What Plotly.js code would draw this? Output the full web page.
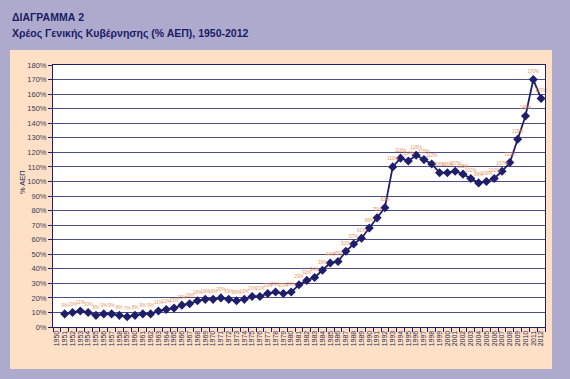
<!DOCTYPE html>
<html>
<head>
<meta charset="utf-8">
<script src="https://cdn.plot.ly/plotly-3.0.1.min.js"></script>
<style>html,body{margin:0;padding:0;background:#aeaacd;}#chart{width:570px;height:379px;}</style>
</head>
<body>
<div id="chart"></div>
<script>
// Categories (years) shown on the axis
const years = [];
for (let y = 1950; y <= 2012; y++) years.push(String(y));

// Years that have a value
const dataYears = ['1951','1952','1953','1954','1955','1956','1957','1958','1959','1960',
  '1961','1962','1963','1964','1965','1966','1967','1968','1969','1970',
  '1971','1972','1973','1974','1975','1976','1977','1978','1979','1980',
  '1981','1982','1983','1984','1985','1986','1987','1988','1989','1990',
  '1991','1992','1993','1994','1995','1996','1997','1998','1999','2000',
  '2001','2002','2003','2004','2005','2006','2007','2008','2009','2010',
  '2011','2012'];

// Debt, % of GDP
const debtPct = [9,10,11,10,8,9,9,8,7,8,
  9,9,11,12,13,15,16,18,19,19,
  20,19,18,19,21,21,23,24,23,24,
  29,32,34,39,44,45,52,57,61,68,
  75,82,110,116,114,118,115,112,106,106,
  107,105,102,99,100,102,107,113,129,145,
  170,157];

const yTickVals = [0,10,20,30,40,50,60,70,80,90,100,110,120,130,140,150,160,170,180];
const yTickText = yTickVals.map(v => v + '%');

const navy = '#1e1e6b';

const trace = {
  x: dataYears,
  y: debtPct,
  type: 'scatter',
  mode: 'lines+markers+text',
  line: {color: navy, width: 1.8},
  marker: {symbol: 'diamond', size: 7, color: navy},
  text: debtPct.map(v => v + '%'),
  textposition: 'top center',
  textfont: {family: 'Arial, Liberation Sans, sans-serif', size: 4.5, color: '#e8935c'},
  cliponaxis: false,
  hoverinfo: 'x+y'
};

const L = 53, R = 545, T = 65, B = 327, W = 570, H = 379;
const px = x => (x - L) / (R - L);
const py = y => (B - y) / (B - T);

const layout = {
  width: W, height: H,
  margin: {l: L, r: W - R, t: T, b: H - B, pad: 0},
  paper_bgcolor: '#aeaacd',
  plot_bgcolor: '#ffffff',
  showlegend: false,
  font: {family: 'Arial, Liberation Sans, sans-serif', color: '#2b2b55'},
  xaxis: {
    type: 'category',
    categoryorder: 'array',
    categoryarray: years,
    range: [-0.5, years.length - 0.5],
    tickmode: 'array',
    tickvals: years,
    ticktext: years,
    tickangle: -90,
    tickfont: {size: 7, color: '#2b2b55'},
    tickson: 'boundaries',
    ticks: 'outside',
    ticklen: 4,
    tickcolor: navy,
    showgrid: false,
    showline: true,
    linecolor: navy,
    linewidth: 1,
    mirror: true,
    zeroline: false,
    automargin: false
  },
  yaxis: {
    range: [0, 180],
    tickmode: 'array',
    tickvals: yTickVals,
    ticktext: yTickText,
    tickfont: {size: 7.5, color: '#3a3a5a'},
    ticks: 'outside',
    ticklen: 4,
    tickcolor: navy,
    showgrid: true,
    gridcolor: '#4e4e86',
    gridwidth: 1,
    showline: true,
    linecolor: navy,
    linewidth: 1,
    mirror: true,
    zeroline: false,
    automargin: false
  },
  shapes: [
    {type: 'rect', xref: 'paper', yref: 'paper', layer: 'below',
     x0: px(10), x1: px(552), y0: py(369), y1: py(50),
     fillcolor: '#fde0c6', line: {width: 0}},
    {type: 'rect', xref: 'paper', yref: 'paper', layer: 'below',
     x0: 0, x1: 1, y0: 0, y1: 1,
     fillcolor: '#ffffff', line: {width: 0}}
  ],
  annotations: [
    {xref: 'paper', yref: 'paper', x: px(10), y: py(17), xanchor: 'left', yanchor: 'middle',
     text: '<b>ΔΙΑΓΡΑΜΜΑ 2</b>', showarrow: false,
     font: {size: 10.5, color: '#1a1a66', family: 'Arial, Liberation Sans, sans-serif'}},
    {xref: 'paper', yref: 'paper', x: px(10), y: py(33), xanchor: 'left', yanchor: 'middle',
     text: '<b>Χρέος Γενικής Κυβέρνησης (% ΑΕΠ), 1950-2012</b>', showarrow: false,
     font: {size: 10.5, color: '#1a1a66', family: 'Arial, Liberation Sans, sans-serif'}},
    {xref: 'paper', yref: 'paper', x: px(22), y: py(182), xanchor: 'center', yanchor: 'middle',
     text: '% ΑΕΠ', textangle: -90, showarrow: false,
     font: {size: 7.5, color: '#2b2b55', family: 'Arial, Liberation Sans, sans-serif'}}
  ]
};

Plotly.newPlot('chart', [trace], layout, {displayModeBar: false, staticPlot: true});
</script>
</body>
</html>
